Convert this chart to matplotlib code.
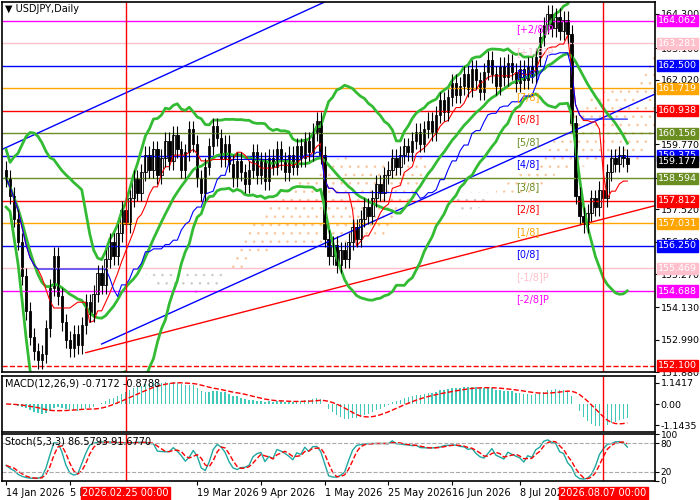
import matplotlib
matplotlib.use("Agg")
import matplotlib.pyplot as plt
import numpy as np
import pandas as pd

closes = [158.6,158.0,157.2,156.4,155.2,154.0,153.1,152.6,152.3,152.5,153.4,
          154.8,155.9,154.5,153.6,153.0,152.7,153.2,152.8,153.5,154.3,
          153.9,154.6,155.3,154.9,155.8,156.4,155.9,156.7,157.5,157.0,
          157.9,158.6,158.1,158.8,159.4,158.9,159.6,158.7,159.3,159.9,
          159.2,160.1,159.6,158.9,159.5,160.3,159.8,158.6,158.1,159.0,
          159.7,160.4,160.0,159.3,159.8,159.1,158.6,159.2,158.8,158.4,
          158.9,159.5,158.7,159.2,158.5,159.3,159.0,159.6,159.2,158.8,
          159.4,159.0,159.7,159.3,159.9,159.5,160.2,160.6,159.4,156.5,
          155.9,156.3,155.6,156.1,155.8,156.4,156.9,156.5,157.2,157.6,
          157.3,157.9,158.4,158.1,158.7,158.9,159.3,159.0,159.4,159.7,
          159.5,159.9,160.2,159.8,160.3,160.6,160.2,160.8,161.3,160.9,
          161.4,161.9,161.5,161.8,162.2,161.7,162.4,162.0,161.6,162.3,
          162.7,162.2,161.8,162.5,162.1,162.6,162.3,161.9,162.4,162.0,
          162.5,162.2,162.8,163.5,163.9,164.3,163.8,164.2,163.7,164.1,
          163.6,160.5,158.0,157.3,157.0,157.4,157.9,157.6,158.2,157.9,
          158.8,159.3,159.1,159.4,159.3,159.1]
opens = [158.9] + closes[:-1]

date_labels = ["14 Jan 2026","5 Feb 2026","19 Mar 2026","9 Apr 2026","1 May 2026","25 May 2026","16 Jun 2026","8 Jul 2026"]
date_pos = [0, 16, 48, 64, 80, 96, 112, 129]

murray_vals = [164.062,163.281,162.500,161.719,160.938,160.156,159.375,158.594,157.812,157.031,156.250,155.469,154.688]
murray_names = ["[+2/8]P","[+1/8]P","[8/8]","[7/8]","[6/8]","[5/8]","[4/8]","[3/8]","[2/8]","[1/8]","[0/8]","[-1/8]P","[-2/8]P"]
murray_cols = ["#ff00ff","#ffc0cb","#0000ff","#ffa500","#ff0000","#6b8e23","#0000ff","#6b8e23","#ff0000","#ffa500","#0000ff","#ffc0cb","#ff00ff"]
plain_ticks = [164.300,163.100,162.020,160.880,159.770,158.610,157.520,156.400,155.270,154.130,152.990,151.880]

blue_low = [(24, 152.85), (163, 161.52)]
blue_up = [(-1, 159.6), (80, 164.71)]
red_line = [(20, 152.55), (163, 157.65)]

c = pd.Series(closes)
n = len(c)
x = np.arange(n)
hi = np.maximum(c, pd.Series(opens)) + 0.3
lo = np.minimum(c, pd.Series(opens)) - 0.3

plt.rcParams['hatch.linewidth'] = 0.6
fig = plt.figure(figsize=(7, 5), dpi=100)
ax = fig.add_axes([0.003, 0.256, 0.933, 0.74])
am = fig.add_axes([0.003, 0.136, 0.933, 0.112], sharex=ax)
ast = fig.add_axes([0.003, 0.038, 0.933, 0.094], sharex=ax)

tenkan = (c.rolling(9, min_periods=1).max() + c.rolling(9, min_periods=1).min()) / 2
kijun = (c.rolling(26, min_periods=1).max() + c.rolling(26, min_periods=1).min()) / 2
spanA = ((tenkan + kijun) / 2)
spanB = (c.rolling(52, min_periods=1).max() + c.rolling(52, min_periods=1).min()) / 2
xs = x + 26
ax.fill_between(xs, spanA, spanB, where=spanA >= spanB, facecolor="none", edgecolor="#f8c8a0", hatch="..", linewidth=0)
ax.fill_between(xs, spanA, spanB, where=spanA < spanB, facecolor="none", edgecolor="#cccccc", hatch="..", linewidth=0)

for v, col in zip(murray_vals, murray_cols):
    ax.axhline(v, color=col, lw=1)
ax.axhline(152.100, color="red", lw=1, ls="--")

for (p, q), col in [(blue_low, "blue"), (blue_up, "blue"), (red_line, "red")]:
    ax.plot([p[0], q[0]], [p[1], q[1]], color=col, lw=1)

mid = c.rolling(20, min_periods=1).mean()
sd = c.rolling(20, min_periods=2).std().fillna(0.5)
for s in (mid, mid + 2 * sd, mid - 2 * sd):
    ax.plot(x, s, color="#33bb33", lw=2)
ax.plot(x, tenkan, color="red", lw=0.8)
ax.plot(x, kijun, color="blue", lw=0.8)

for i in range(n):
    ax.vlines(i, lo[i], hi[i], color="black", lw=0.8)
    b0, b1 = sorted([opens[i], closes[i]])
    ax.bar(i, max(b1 - b0, 0.03), bottom=b0, width=0.6,
           color="white" if closes[i] >= opens[i] else "black", edgecolor="black", lw=0.6)

for v, nm, col in zip(murray_vals, murray_names, murray_cols):
    ax.text(128, v - 0.12, nm, color=col, fontsize=7, va="top", ha="left")

ax.set_ylim(151.97, 164.71)
ax.set_xlim(-1, 163)
ax.yaxis.tick_right()
ax.set_yticks(plain_ticks)
ax.set_yticklabels([f"{t:.3f}" for t in plain_ticks], fontsize=6.8)
ax.tick_params(axis="y", pad=1, length=3)
ax.tick_params(axis="x", labelbottom=False, length=0)
for v, col in zip(murray_vals + [152.100, 159.177], murray_cols + ["#ff0000", "#000000"]):
    ax.annotate(f"{v:.3f}", xy=(1.0, v), xycoords=("axes fraction", "data"), xytext=(2, 0),
                textcoords="offset points", va="center", ha="left", fontsize=6.8, color="white",
                bbox=dict(boxstyle="square,pad=0.12", fc=col, ec=col))
ax.text(0.005, 0.995, "\u25bc USDJPY,Daily", transform=ax.transAxes, fontsize=7, va="top")

e12 = c.ewm(span=12).mean(); e26 = c.ewm(span=26).mean()
macd = e12 - e26
sig = macd.rolling(9, min_periods=1).mean()
am.bar(x, macd, width=0.35, color="#40c8b8")
am.plot(x, sig, color="red", ls="--", lw=1)
am.set_ylim(-1.5, 1.5)
am.yaxis.tick_right()
am.set_yticks([1.1417, 0.0, -1.1435]); am.set_yticklabels(["1.1417", "0.00", "-1.1435"], fontsize=6.8)
am.tick_params(axis="y", pad=1, length=3)
am.tick_params(axis="x", labelbottom=False, length=0)
am.text(0.005, 0.95, "MACD(12,26,9) -0.7172 -0.8788", transform=am.transAxes, fontsize=7, va="top")

ll = lo.rolling(5, min_periods=1).min(); hh = hi.rolling(5, min_periods=1).max()
k = (100 * (c - ll) / (hh - ll)).rolling(3, min_periods=1).mean()
d = k.rolling(3, min_periods=1).mean()
ast.plot(x, k, color="#20a8a0", lw=1)
ast.plot(x, d, color="red", ls="--", lw=1)
for lv in (80, 20):
    ast.axhline(lv, color="#aaaaaa", ls="--", lw=0.8)
ast.set_ylim(0, 100)
ast.yaxis.tick_right()
ast.set_yticks([100, 80, 20, 0]); ast.set_yticklabels(["100", "80", "20", "0"], fontsize=6.5)
ast.tick_params(axis="y", pad=1, length=3)
ast.text(0.005, 0.95, "Stoch(5,3,3) 86.5793 91.6770", transform=ast.transAxes, fontsize=7, va="top")
ast.set_xticks(date_pos)
ast.set_xticklabels(date_labels, fontsize=7, ha="left")
ast.tick_params(axis="x", length=3, pad=2)

for a in (ax, am, ast):
    a.axvline(30, color="red", lw=1)
    a.axvline(150, color="red", lw=1)
    for sp in a.spines.values():
        sp.set_linewidth(1.2)
for pos, lab in [(30, "2026.02.25 00:00"), (150, "2026.08.07 00:00")]:
    ast.annotate(lab, xy=(pos, 0), xycoords=("data", "axes fraction"), xytext=(0, -9),
                 textcoords="offset points", ha="center", va="center", fontsize=7, color="white",
                 bbox=dict(boxstyle="square,pad=0.15", fc="red", ec="red"))

fig.savefig("out.png", dpi=100)
